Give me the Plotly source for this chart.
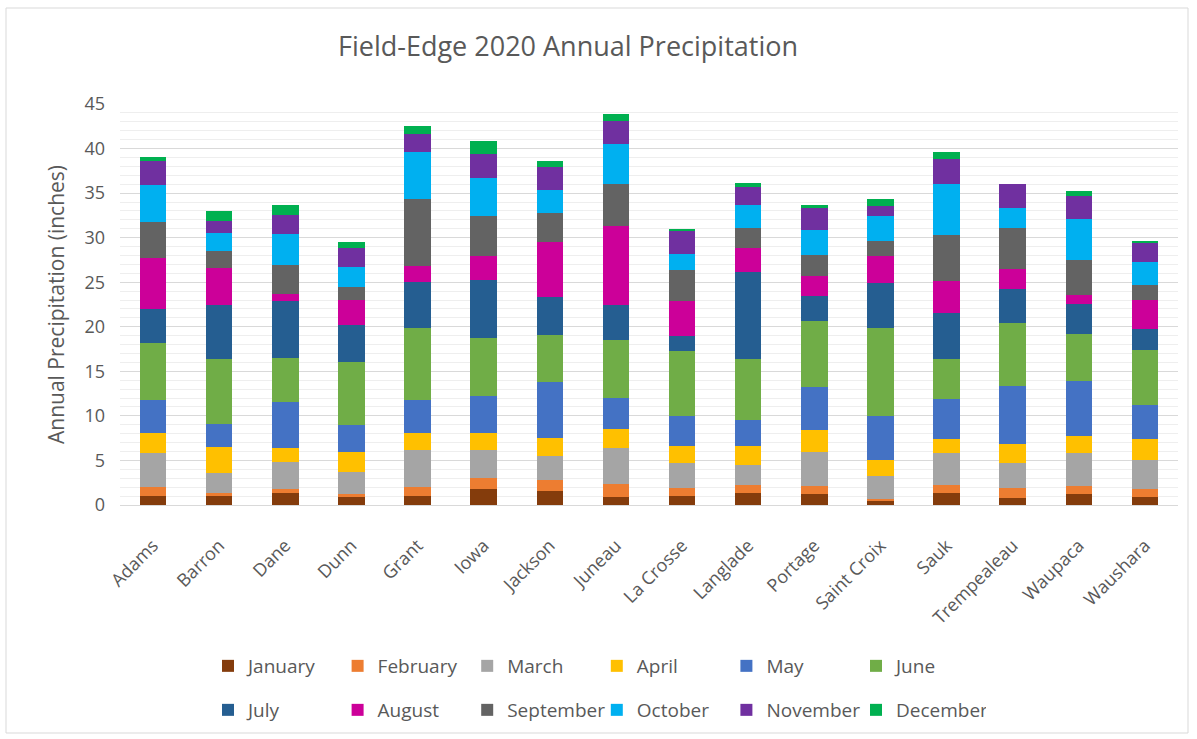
import plotly.graph_objects as go

counties = ["Adams", "Barron", "Dane", "Dunn", "Grant", "Iowa", "Jackson", "Juneau",
            "La Crosse", "Langlade", "Portage", "Saint Croix", "Sauk", "Trempealeau",
            "Waupaca", "Waushara"]

months = ["January", "February", "March", "April", "May", "June",
          "July", "August", "September", "October", "November", "December"]

january   = [1.0, 1.1, 1.3, 0.9, 1.0, 1.8, 1.6, 0.9, 1.0, 1.4, 1.2, 0.4, 1.3, 0.8, 1.2, 0.9]
february  = [1.0, 0.2, 0.45, 0.3, 1.05, 1.2, 1.15, 1.5, 0.95, 0.85, 0.95, 0.25, 0.95, 1.1, 0.95, 0.85]
march     = [3.8, 2.25, 3.1, 2.45, 4.1, 3.2, 2.7, 3.95, 2.8, 2.25, 3.85, 2.55, 3.6, 2.8, 3.65, 3.3]
april     = [2.25, 3.0, 1.55, 2.25, 1.9, 1.85, 2.05, 2.15, 1.9, 2.15, 2.45, 1.8, 1.6, 2.15, 1.9, 2.35]
may       = [3.75, 2.5, 5.2, 3.1, 3.75, 4.2, 6.3, 3.5, 3.3, 2.9, 4.75, 4.95, 4.5, 6.45, 6.2, 3.8]
june      = [6.35, 7.3, 4.9, 7.0, 8.05, 6.5, 5.3, 6.55, 7.3, 6.8, 7.5, 9.9, 4.4, 7.1, 5.25, 6.25]
july      = [3.85, 6.1, 6.35, 4.25, 5.15, 6.55, 4.25, 3.95, 1.7, 9.85, 2.75, 5.05, 5.25, 3.85, 3.45, 2.35]
august    = [5.7, 4.1, 0.85, 2.75, 1.8, 2.6, 6.15, 8.8, 3.95, 2.6, 2.25, 3.0, 3.5, 2.25, 0.95, 3.2]
september = [4.1, 1.95, 3.25, 1.5, 7.5, 4.55, 3.3, 4.75, 3.45, 2.3, 2.35, 1.75, 5.25, 4.55, 3.95, 1.7]
october   = [4.1, 2.05, 3.5, 2.25, 5.3, 4.3, 2.6, 4.5, 1.85, 2.6, 2.8, 2.8, 5.7, 2.3, 4.6, 2.6]
november  = [2.7, 1.3, 2.1, 2.05, 2.05, 2.6, 2.55, 2.55, 2.55, 2.0, 2.45, 1.05, 2.8, 2.65, 2.6, 2.15]
december  = [0.45, 1.15, 1.1, 0.75, 0.85, 1.5, 0.7, 0.75, 0.25, 0.45, 0.35, 0.85, 0.8, 0.0, 0.55, 0.1]

series = [january, february, march, april, may, june,
          july, august, september, october, november, december]

colors = ["#843C0C", "#ED7D31", "#A5A5A5", "#FFC000", "#4472C4", "#70AD47",
          "#255E91", "#CC0099", "#636363", "#00B0F0", "#7030A0", "#00B050"]

FONT = "Open Sans"
TXT = "#595959"

fig = go.Figure()
for i, (name, vals, col) in enumerate(zip(months, series, colors)):
    fig.add_trace(go.Bar(
        x=counties, y=vals, name=name, marker=dict(color=col, line=dict(width=0)),
        legend="legend" if i < 6 else "legend2",
    ))

W, H = 1197, 739
L, R, T, B = 120, 19, 104, 234
pw, ph = W - L - R, H - T - B

def px2paper_x(x):
    return (x - L) / pw

def px2paper_y(y):
    return (H - B - y) / ph

legend_common = dict(orientation="h", xanchor="left", yanchor="middle",
                     entrywidth=84.6, entrywidthmode="pixels",
                     font=dict(size=19, color=TXT), bgcolor="rgba(0,0,0,0)",
                     traceorder="normal")

fig.update_layout(
    width=W, height=H,
    margin=dict(l=L, r=R, t=T, b=B, autoexpand=False),
    barmode="stack", bargap=0.6,
    plot_bgcolor="white", paper_bgcolor="white",
    font=dict(family=FONT, color=TXT, size=18),
    title=dict(text="Field-Edge 2020 Annual Precipitation", x=568 / W, xanchor="center",
               xref="container", y=1 - 47 / H, yanchor="middle",
               font=dict(size=27, color=TXT, family=FONT)),
    xaxis=dict(tickangle=-45, showline=True, linecolor="#D9D9D9", linewidth=1,
               tickfont=dict(size=18, color=TXT), showgrid=False, ticks="",
               ticklabelstandoff=22, automargin=False),
    yaxis=dict(range=[0, 45], dtick=5, showgrid=True, gridcolor="#D9D9D9", gridwidth=1,
               zeroline=False, tickfont=dict(size=18, color=TXT), ticklabelstandoff=14,
               automargin=False,
               minor=dict(dtick=1, showgrid=True, gridcolor="#EEEEEE", gridwidth=1),
               title=dict(text="Annual Precipitation (inches)", font=dict(size=21, color=TXT),
                          standoff=14)),
    legend=dict(x=px2paper_x(208), y=px2paper_y(666), **legend_common),
    legend2=dict(x=px2paper_x(208), y=px2paper_y(710), **legend_common),
    shapes=[dict(type="rect", xref="paper", yref="paper",
                 x0=px2paper_x(6), x1=px2paper_x(1188), y0=px2paper_y(733), y1=px2paper_y(8),
                 line=dict(color="#D9D9D9", width=1), fillcolor="rgba(0,0,0,0)", layer="below")],
)

fig.write_html("out.html")
